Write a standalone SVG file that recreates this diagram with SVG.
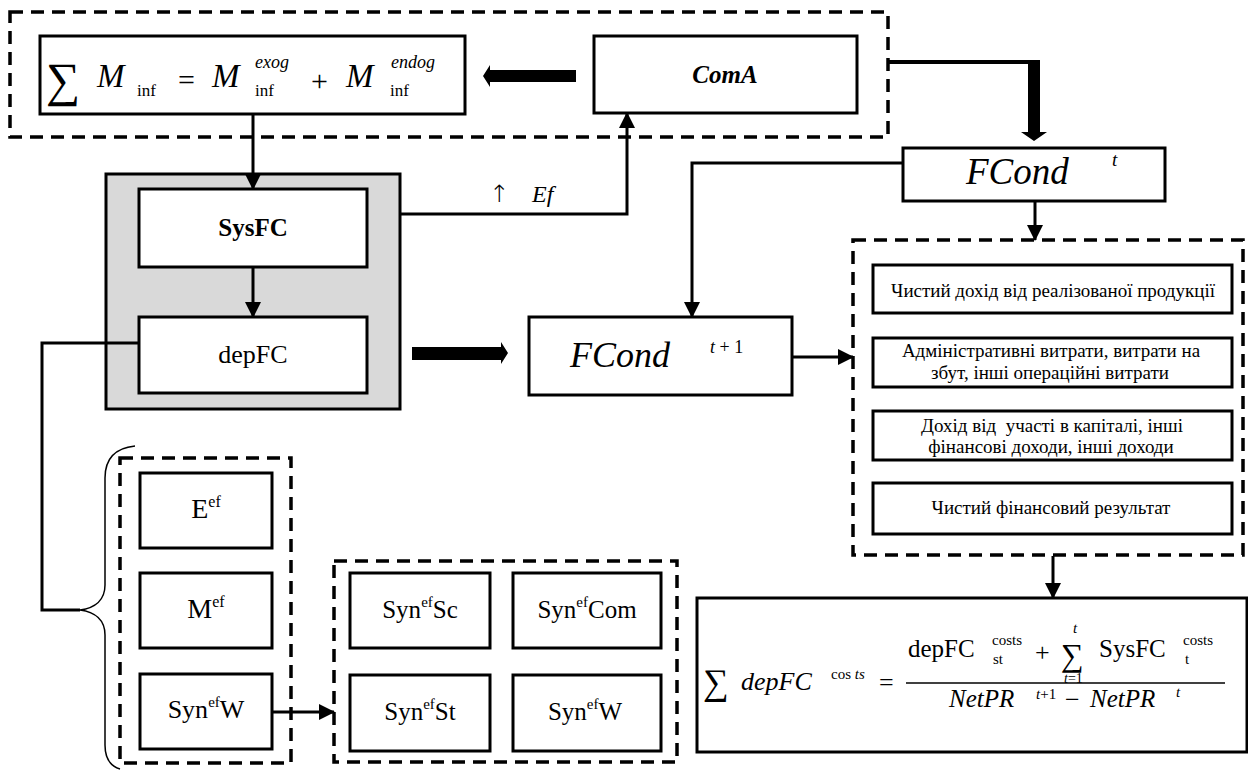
<svg xmlns="http://www.w3.org/2000/svg" width="1248" height="771" viewBox="0 0 1248 771">
<style>
.bx{fill:#fff;stroke:#000;stroke-width:3}
.dash{fill:none;stroke:#000;stroke-width:3.5;stroke-dasharray:13 8}
.ln{fill:none;stroke:#000;stroke-width:3}
text{font-family:'Liberation Serif','DejaVu Serif','Times New Roman',serif;fill:#000}
.i{font-style:italic}
.b{font-weight:bold}
.lst{font-size:19px;text-anchor:middle}
</style>
<defs>
<marker id="ah" markerUnits="userSpaceOnUse" markerWidth="17" markerHeight="17" refX="15" refY="8" orient="auto">
<path d="M0,0 L16,8 L0,16 z" fill="#000"/>
</marker>
</defs>
<rect width="1248" height="771" fill="#fff"/>

<g id="group-top">
<rect class="dash" x="10" y="12" width="878" height="125"/>
</g>
<g id="group-right">
<rect class="dash" x="853" y="240" width="390" height="315"/>
</g>
<g id="group-left">
<rect class="dash" x="120" y="458" width="171" height="305"/>
</g>
<g id="group-syn">
<rect class="dash" x="334" y="561" width="343" height="201"/>
</g>

<g id="node-minf">
<rect class="bx" x="40" y="36" width="425" height="78"/>
<text x="46" y="96" font-size="48">∑</text>
<text class="i" x="97" y="87" font-size="33">M</text>
<text x="137" y="96" font-size="17">inf</text>
<text x="178" y="90" font-size="30">=</text>
<text class="i" x="212" y="87" font-size="33">M</text>
<text class="i" x="255" y="68" font-size="18">exog</text>
<text x="255" y="96" font-size="17">inf</text>
<text x="311" y="91" font-size="30">+</text>
<text class="i" x="346" y="87" font-size="33">M</text>
<text class="i" x="391" y="68" font-size="18">endog</text>
<text x="390" y="96" font-size="17">inf</text>
</g>

<g id="node-coma">
<rect class="bx" x="594" y="36" width="263" height="77"/>
<text class="i b" x="725" y="83" font-size="25" text-anchor="middle">ComA</text>
</g>

<g id="node-sys-group">
<rect x="106" y="174" width="294" height="235" fill="#d9d9d9" stroke="#000" stroke-width="3"/>
</g>
<g id="node-sysfc">
<rect class="bx" x="139" y="189" width="228" height="78"/>
<text class="b" x="253" y="236" font-size="25" text-anchor="middle">SysFC</text>
</g>
<g id="node-depfc">
<rect class="bx" x="139" y="317" width="228" height="76"/>
<text x="253" y="363" font-size="26" text-anchor="middle">depFC</text>
</g>

<g id="node-fcond-t">
<rect class="bx" x="903" y="148" width="262" height="53"/>
<text class="i" x="966" y="184" font-size="37">FCond</text>
<text class="i" x="1112" y="166" font-size="19">t</text>
</g>

<g id="node-fcond-t1">
<rect class="bx" x="529" y="317" width="263" height="78"/>
<text class="i" x="570" y="367" font-size="36">FCond</text>
<text x="710" y="353" font-size="18"><tspan font-style="italic">t</tspan> + 1</text>
</g>

<g id="node-item1">
<rect class="bx" x="873" y="265" width="359" height="48"/>
<text class="lst" x="1053" y="297">Чистий дохід від реалізованої продукції</text>
</g>
<g id="node-item2">
<rect class="bx" x="873" y="338" width="359" height="49"/>
<text class="lst" x="1051" y="357">Адміністративні витрати, витрати на</text>
<text class="lst" x="1050" y="379">збут, інші операційні витрати</text>
</g>
<g id="node-item3">
<rect class="bx" x="873" y="411" width="359" height="49"/>
<text class="lst" x="1052" y="432" xml:space="preserve">Дохід від  участі в капіталі, інші</text>
<text class="lst" x="1051" y="453">фінансові доходи, інші доходи</text>
</g>
<g id="node-item4">
<rect class="bx" x="873" y="483" width="359" height="51"/>
<text class="lst" x="1051" y="514">Чистий фінансовий результат</text>
</g>

<g id="node-formula">
<rect class="bx" x="697" y="598" width="550" height="154"/>
<text x="703" y="694" font-size="36">∑</text>
<text class="i" x="741" y="690" font-size="26">depFC</text>
<text x="831" y="679" font-size="15">cos <tspan font-style="italic">ts</tspan></text>
<text x="879" y="691" font-size="26">=</text>
<line x1="906" y1="683" x2="1225" y2="683" stroke="#000" stroke-width="1.5"/>
<text x="908" y="657" font-size="25">depFC</text>
<text x="992" y="645" font-size="15">costs</text>
<text x="993" y="664" font-size="15">st</text>
<text x="1035" y="661" font-size="26">+</text>
<text x="1061" y="666" font-size="32">∑</text>
<text class="i" x="1073" y="633" font-size="15">t</text>
<text x="1064" y="683" font-size="14"><tspan font-style="italic">t</tspan>=1</text>
<text x="1099" y="657" font-size="25">SysFC</text>
<text x="1183" y="645" font-size="15">costs</text>
<text x="1185" y="664" font-size="15">t</text>
<text class="i" x="949" y="707" font-size="25">NetPR</text>
<text x="1036" y="699" font-size="15"><tspan font-style="italic">t</tspan>+1</text>
<text x="1065" y="708" font-size="26">−</text>
<text class="i" x="1090" y="707" font-size="25">NetPR</text>
<text class="i" x="1176" y="697" font-size="15">t</text>
</g>

<g id="node-eef">
<rect class="bx" x="140" y="473" width="132" height="75"/>
<text x="206" y="518" font-size="28" text-anchor="middle">E<tspan font-size="16" dy="-11">ef</tspan></text>
</g>
<g id="node-mef">
<rect class="bx" x="140" y="573" width="132" height="75"/>
<text x="206" y="618" font-size="28" text-anchor="middle">M<tspan font-size="16" dy="-11">ef</tspan></text>
</g>
<g id="node-synw-left">
<rect class="bx" x="140" y="674" width="132" height="75"/>
<text x="206" y="718" font-size="26" text-anchor="middle">Syn<tspan font-size="15" dy="-11">ef</tspan><tspan dy="11">W</tspan></text>
</g>

<g id="node-synsc">
<rect class="bx" x="350" y="573" width="140" height="75"/>
<text x="420" y="618" font-size="25" text-anchor="middle">Syn<tspan font-size="15" dy="-11">ef</tspan><tspan dy="11">Sc</tspan></text>
</g>
<g id="node-syncom">
<rect class="bx" x="513" y="573" width="148" height="75"/>
<text x="587" y="618" font-size="25" text-anchor="middle">Syn<tspan font-size="15" dy="-11">ef</tspan><tspan dy="11">Com</tspan></text>
</g>
<g id="node-synst">
<rect class="bx" x="350" y="675" width="140" height="76"/>
<text x="420" y="720" font-size="25" text-anchor="middle">Syn<tspan font-size="15" dy="-11">ef</tspan><tspan dy="11">St</tspan></text>
</g>
<g id="node-synw">
<rect class="bx" x="513" y="675" width="148" height="76"/>
<text x="585" y="720" font-size="25" text-anchor="middle">Syn<tspan font-size="15" dy="-11">ef</tspan><tspan dy="11">W</tspan></text>
</g>

<g id="connectors">
<path class="ln" d="M253,114 V189" marker-end="url(#ah)"/>
<path class="ln" d="M253,267 V317" marker-end="url(#ah)"/>
<path class="ln" d="M400,214 H627 V113" marker-end="url(#ah)"/>
<text x="499" y="202" font-size="24" text-anchor="middle" style="font-family:'DejaVu Sans',sans-serif;font-weight:200">↑</text>
<text class="i" x="532" y="202" font-size="24">Ef</text>
<polygon points="576,70 490,70 490,65 483,76 490,87 490,82 576,82" fill="#000"/>
<path d="M888,62 H1040" fill="none" stroke="#000" stroke-width="4"/>
<polygon points="1028,60 1040,60 1040,132 1047,132 1034,141 1021,132 1028,132" fill="#000"/>
<path class="ln" d="M903,163 H692 V317" marker-end="url(#ah)"/>
<path class="ln" d="M1035,201 V240" marker-end="url(#ah)"/>
<polygon points="412,347 501,347 501,342 508,353 501,364 501,360 412,360" fill="#000"/>
<path class="ln" d="M792,357 H853" marker-end="url(#ah)"/>
<path class="ln" d="M1053,556 V598" marker-end="url(#ah)"/>
<path class="ln" d="M139,343 H42 V610 H80"/>
<path d="M135,446 C115,448 105,458 105,478 L105,585 C105,600 95,608 80,610 C95,612 105,620 105,635 L105,745 C105,758 110,766 120,769" fill="none" stroke="#000" stroke-width="1.5"/>
<path class="ln" d="M272,712 H334" marker-end="url(#ah)"/>
</g>
</svg>
